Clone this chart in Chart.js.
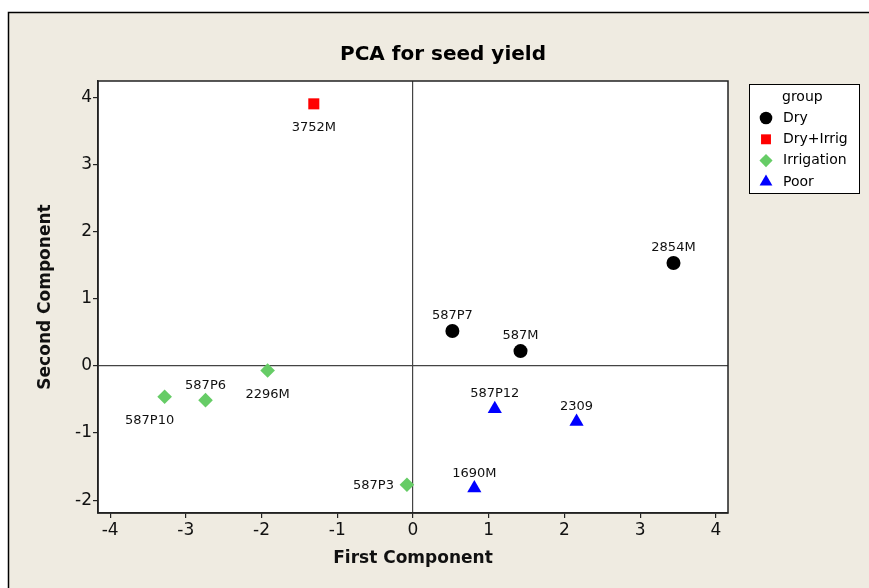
<!DOCTYPE html>
<html>
<head>
<meta charset="utf-8">
<script src="https://cdn.jsdelivr.net/npm/chart.js@4/dist/chart.umd.min.js"></script>
<style>
  html, body { margin: 0; padding: 0; background: #fff; }
  #wrap { position: relative; width: 869px; height: 588px; }
</style>
</head>
<body>
<div id="wrap"><canvas id="pca" width="869" height="588"></canvas></div>
<script>
/* PCA score plot, first vs second component, coloured by group. */

// ------------------------------------------------------------- data ----
const GROUPS = ['Dry', 'Dry+Irrig', 'Irrigation', 'Poor'];
const NAMES  = ['3752M', '2854M', '587P7', '587M', '587P12', '2309', '1690M', '587P3', '2296M', '587P6', '587P10'];
const PC1    = [-1.31, 3.44, 0.52, 1.42, 1.08, 2.16, 0.81, -0.08, -1.92, -2.74, -3.28];
const PC2    = [3.90, 1.53, 0.52, 0.22, -0.64, -0.83, -1.82, -1.77, -0.07, -0.51, -0.46];
const GROUP  = ['Dry+Irrig', 'Dry', 'Dry', 'Dry', 'Poor', 'Poor', 'Poor', 'Irrigation', 'Irrigation', 'Irrigation', 'Irrigation'];
const X_TICKS = [-4, -3, -2, -1, 0, 1, 2, 3, 4];
const Y_TICKS = [-2, -1, 0, 1, 2, 3, 4];

// where each name sits relative to its marker
const LABEL_SIDE = ['below', 'above', 'above', 'above', 'above', 'above', 'above', 'left', 'below', 'above', 'belowLeft'];

// ------------------------------------------------------------ style ----
const BEIGE = '#efebe1';
const FONT = '"DejaVu Sans", Verdana, sans-serif';
const STYLE = {
  'Dry':        { color: '#000000', shape: 'circle',   r: 7 },
  'Dry+Irrig':  { color: '#ff0000', shape: 'rect',     r: 7.8 },
  'Irrigation': { color: '#66cc66', shape: 'rectRot',  r: 7.3 },
  'Poor':       { color: '#0000ff', shape: 'triangle', r: 8.2 },
};

const datasets = GROUPS.map(g => {
  const pts = [];
  NAMES.forEach((n, i) => { if (GROUP[i] === g) pts.push({ x: PC1[i], y: PC2[i], name: n, side: LABEL_SIDE[i] }); });
  const s = STYLE[g];
  return {
    label: g, data: pts,
    pointStyle: s.shape, pointRadius: s.r, pointHoverRadius: s.r,
    backgroundColor: s.color, borderColor: s.color, borderWidth: 0,
  };
});

// ---------------------------------------------------------- plugins ----
const frame = {
  id: 'frame',
  beforeDraw(chart) {
    const { ctx, chartArea: a } = chart;
    ctx.save();
    ctx.fillStyle = BEIGE;
    ctx.fillRect(8, 12, chart.width - 8, chart.height - 12);
    ctx.strokeStyle = '#000'; ctx.lineWidth = 1.5;
    ctx.beginPath(); ctx.moveTo(8.5, chart.height); ctx.lineTo(8.5, 12.5); ctx.lineTo(chart.width, 12.5); ctx.stroke();
    ctx.fillStyle = '#fff';
    ctx.fillRect(a.left, a.top, a.right - a.left, a.bottom - a.top);
    ctx.restore();
  },
  afterDraw(chart) {
    const { ctx, chartArea: a } = chart;
    ctx.save();
    ctx.strokeStyle = '#222'; ctx.lineWidth = 1.5;
    ctx.strokeRect(a.left, a.top, a.right - a.left, a.bottom - a.top);
    // title
    ctx.fillStyle = '#000';
    ctx.font = 'bold 20px ' + FONT;
    ctx.textAlign = 'center'; ctx.textBaseline = 'middle';
    ctx.fillText('PCA for seed yield', 443, 55);
    ctx.restore();
  },
};

const pointNames = {
  id: 'pointNames',
  afterDatasetsDraw(chart) {
    const { ctx } = chart;
    const xs = chart.scales.x, ys = chart.scales.y;
    ctx.save();
    ctx.font = '13px ' + FONT;
    ctx.fillStyle = '#111';
    ctx.textBaseline = 'middle';
    chart.data.datasets.forEach(ds => ds.data.forEach(p => {
      const px = xs.getPixelForValue(p.x), py = ys.getPixelForValue(p.y);
      let tx = px, ty = py, align = 'center';
      if (p.side === 'above') ty = py - 15;
      else if (p.side === 'below') ty = py + 24;
      else if (p.side === 'belowLeft') { tx = px - 15; ty = py + 24; }
      else if (p.side === 'left') { tx = px - 13; ty = py + 1; align = 'right'; }
      ctx.textAlign = align;
      ctx.fillText(p.name, tx, ty);
    }));
    ctx.restore();
  },
};

const groupLegend = {
  id: 'groupLegend',
  afterDraw(chart) {
    const { ctx } = chart;
    const box = { x: 749, y: 84, w: 110, h: 109 };
    ctx.save();
    ctx.fillStyle = '#fff';
    ctx.fillRect(box.x, box.y, box.w, box.h);
    ctx.strokeStyle = '#000'; ctx.lineWidth = 1;
    ctx.strokeRect(box.x + 0.5, box.y + 0.5, box.w, box.h);
    ctx.font = '14px ' + FONT;
    ctx.fillStyle = '#000';
    ctx.textAlign = 'left'; ctx.textBaseline = 'middle';
    ctx.fillText('group', 782, 97);
    chart.data.datasets.forEach((ds, i) => {
      const y = 118 + i * 21.3;
      const s = STYLE[ds.label];
      ctx.fillStyle = s.color;
      Chart.helpers.drawPoint(ctx, { pointStyle: s.shape, radius: s.r * 0.9, borderWidth: 0 }, 766, y);
      ctx.fillStyle = '#000';
      ctx.fillText(ds.label, 783, y);
    });
    ctx.restore();
  },
};

// ------------------------------------------------------------ chart ----
const zeroGrid = ctx => (ctx.tick && ctx.tick.value === 0) ? '#444' : 'rgba(0,0,0,0)';

new Chart(document.getElementById('pca'), {
  type: 'scatter',
  data: { datasets },
  plugins: [frame, pointNames, groupLegend],
  options: {
    responsive: false, animation: false,
    layout: { padding: { left: 0, top: 81, right: 141, bottom: 0 } },
    plugins: { legend: { display: false }, title: { display: false }, tooltip: { enabled: false } },
    scales: {
      x: {
        min: -4.16, max: 4.16,
        afterBuildTicks: s => { s.ticks = X_TICKS.map(v => ({ value: v })); },
        afterFit: s => { s.height = 75; },
        grid: { color: zeroGrid, lineWidth: 1.2, tickColor: '#222', tickLength: 5, tickWidth: 1.2 },
        border: { display: true, color: '#222', width: 1.5 },
        ticks: { color: '#111', font: { family: FONT, size: 17 }, padding: 2 },
        title: { display: true, text: 'First Component', color: '#111',
          font: { family: FONT, size: 17, weight: 'bold' }, padding: { top: 0, bottom: 19 } },
      },
      y: {
        min: -2.19, max: 4.24,
        afterBuildTicks: s => { s.ticks = Y_TICKS.map(v => ({ value: v })); },
        afterFit: s => { s.width = 98; },
        grid: { color: zeroGrid, lineWidth: 1.2, tickColor: '#222', tickLength: 5, tickWidth: 1.2 },
        border: { display: true, color: '#222', width: 1.5 },
        ticks: { color: '#111', font: { family: FONT, size: 17 }, padding: 1 },
        title: { display: true, text: 'Second Component', color: '#111',
          font: { family: FONT, size: 17, weight: 'bold' }, padding: { top: 35, bottom: 0 } },
      },
    },
  },
});
</script>
</body>
</html>
